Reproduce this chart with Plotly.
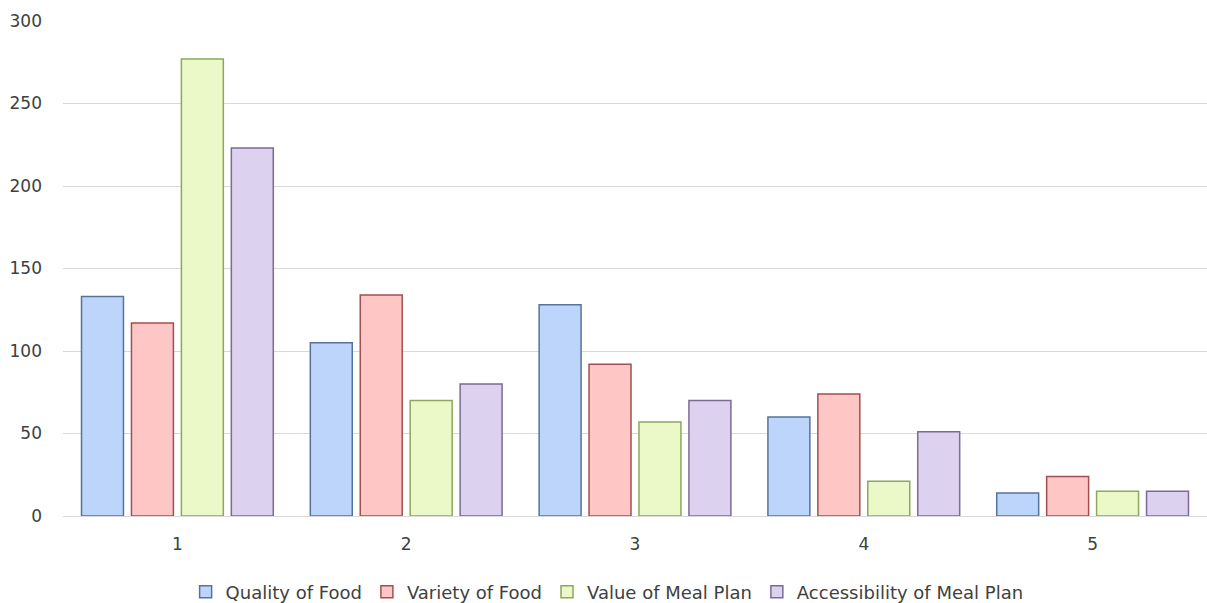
import plotly.graph_objects as go

categories = ["1", "2", "3", "4", "5"]
series_names = ["Quality of Food", "Variety of Food", "Value of Meal Plan", "Accessibility of Meal Plan"]
quality = [133, 105, 128, 60, 14]
variety = [117, 134, 92, 74, 24]
value = [277, 70, 57, 21, 15]
access = [223, 80, 70, 51, 15]
y_ticks = [0, 50, 100, 150, 200, 250, 300]

fills = ["#bdd5fb", "#ffc6c6", "#ebf9c8", "#ddd1f0"]
lines = ["#56739c", "#a24f4f", "#8ea65e", "#7b6b96"]

fig = go.Figure()
for name, vals, fc, lc in zip(series_names, [quality, variety, value, access], fills, lines):
    fig.add_trace(go.Bar(
        x=categories, y=vals, name=name,
        marker=dict(color=fc, line=dict(color=lc, width=1.5)),
    ))

FONT = "DejaVu Sans, Verdana, sans-serif"
fig.update_layout(
    width=1207, height=603,
    paper_bgcolor="white", plot_bgcolor="white",
    margin=dict(l=63, r=0, t=21, b=87, autoexpand=False),
    barmode="group", bargap=0.127, bargroupgap=0.16,
    font=dict(family=FONT, size=17, color="#404040"),
    xaxis=dict(showgrid=False, showline=True, linecolor="#d9d9d9", linewidth=1,
               ticks="", tickfont=dict(family=FONT, size=17, color="#404040"), ticklabelstandoff=13),
    yaxis=dict(range=[0, 300], tickvals=y_ticks, showgrid=True, gridcolor="#d9d9d9",
               gridwidth=1, zeroline=False, showline=False, ticks="",
               tickfont=dict(family=FONT, size=17, color="#404040"), ticklabelstandoff=20),
    showlegend=True,
    legend=dict(orientation="h", x=0.503, xref="container", xanchor="center",
                y=-0.1535, yref="paper", yanchor="middle",
                font=dict(family=FONT, size=18, color="#404040"),
                itemwidth=30, tracegroupgap=0),
)

fig.write_html("out.html", config={"displayModeBar": False},
               post_script="document.body.style.margin='0';document.body.style.overflow='hidden';")
